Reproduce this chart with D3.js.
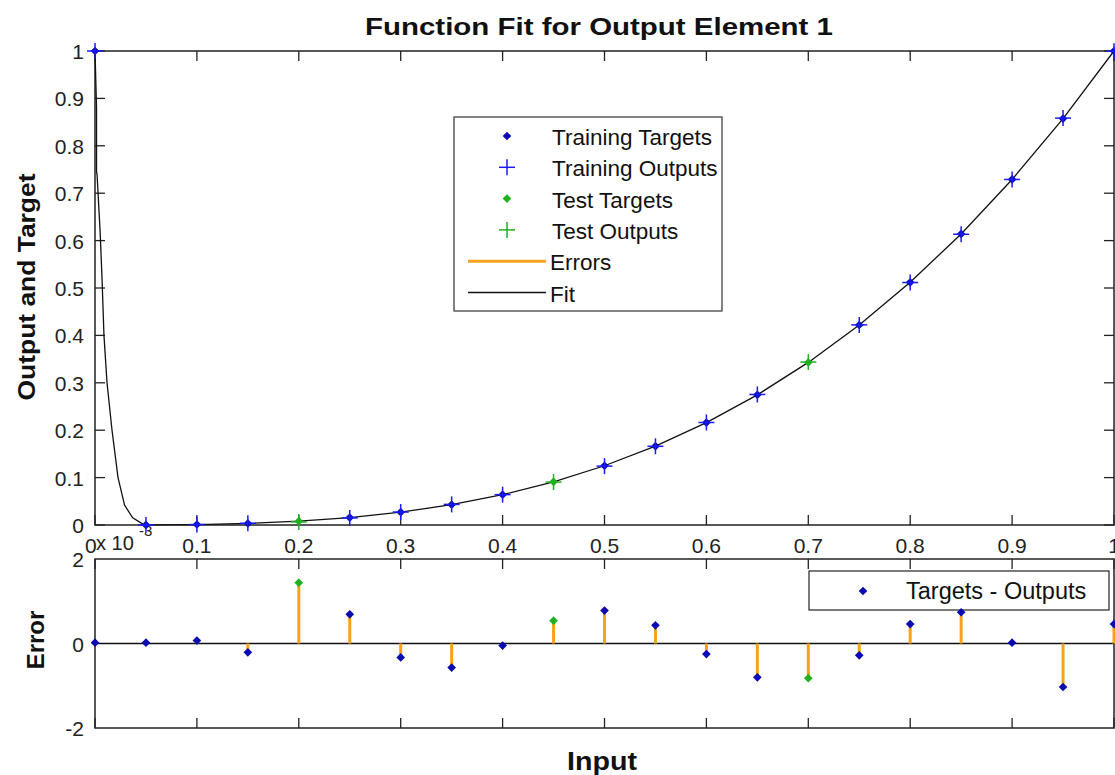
<!DOCTYPE html>
<html>
<head>
<meta charset="utf-8">
<script src="https://cdn.jsdelivr.net/npm/d3@7"></script>
<style>
  body { margin: 0; background: #fff; }
  text { font-family: Arial, "Liberation Sans", sans-serif; }
</style>
</head>
<body>
<svg id="viz" width="1115" height="775"></svg>
<script>
// inputs 0..1 step 0.05
var inputs = [0, 0.05, 0.1, 0.15, 0.2, 0.25, 0.3, 0.35, 0.4, 0.45, 0.5,
              0.55, 0.6, 0.65, 0.7, 0.75, 0.8, 0.85, 0.9, 0.95, 1.0];
var targets = [1.0, 0.0001, 0.001, 0.0034, 0.008, 0.0156, 0.027, 0.0429, 0.064, 0.0911, 0.125,
               0.1664, 0.216, 0.2746, 0.343, 0.4219, 0.512, 0.6141, 0.729, 0.8574, 1.0];
// errors in units of 1e-3
var errors = [0.02, 0.02, 0.07, -0.21, 1.44, 0.69, -0.33, -0.57, -0.05, 0.54, 0.78,
              0.43, -0.25, -0.80, -0.82, -0.28, 0.46, 0.74, 0.02, -1.03, 0.46];
var testIdx = [4, 9, 14];
// fit line
var fitX = [0, 0.0015, 0.0015, 0.002, 0.005, 0.0069, 0.0088, 0.0118, 0.0167, 0.0226, 0.029, 0.037, 0.047,
            0.05, 0.1, 0.15, 0.2, 0.25, 0.3, 0.35, 0.4, 0.45, 0.5, 0.55, 0.6, 0.65, 0.7, 0.75, 0.8, 0.85, 0.9, 0.95, 1.0];
var fitY = [1.0, 0.88, 0.745, 0.74, 0.62, 0.52, 0.4, 0.3, 0.2, 0.1, 0.042, 0.015, 0.002,
            0.0001, 0.001, 0.0034, 0.008, 0.0156, 0.027, 0.0429, 0.064, 0.0911, 0.125, 0.1664, 0.216, 0.2746, 0.343, 0.4219, 0.512, 0.6141, 0.729, 0.8574, 1.0];
var xTicks = [0, 0.1, 0.2, 0.3, 0.4, 0.5, 0.6, 0.7, 0.8, 0.9, 1];
var yTicks = [0, 0.1, 0.2, 0.3, 0.4, 0.5, 0.6, 0.7, 0.8, 0.9, 1];
var errTicks = [-2, 0, 2];
var legendLabels = ["Training Targets", "Training Outputs", "Test Targets", "Test Outputs", "Errors", "Fit"];

var blueDot = "#0a0ab0", bluePlus = "#1a1aff", green = "#22b022", orange = "#f7a21b";

var svg = d3.select("#viz");
var left = 95, right = 1114;
var x = d3.scaleLinear().domain([0, 1]).range([left, right]);
var y = d3.scaleLinear().domain([0, 1]).range([525, 51]);
var ye = d3.scaleLinear().domain([-2, 2]).range([728, 559]);

var pts = inputs.map(function(v, i){
    return { x: v, t: targets[i], e: errors[i], o: targets[i] - errors[i] / 1000,
             test: testIdx.indexOf(i) >= 0 };
});

var diamond = d3.symbol().type(d3.symbolDiamond2).size(48);

// ---- main panel ----
var main = svg.append("g");
main.append("rect").attr("x", left).attr("y", 51).attr("width", right - left).attr("height", 474)
    .attr("fill", "#fff").attr("stroke", "#222").attr("stroke-width", 1.5);

var tick = function(g, scale, yy, dir, ticks){
    ticks.forEach(function(t){
        g.append("line").attr("x1", scale(t)).attr("x2", scale(t))
            .attr("y1", yy).attr("y2", yy + dir * 10).attr("stroke", "#222").attr("stroke-width", 1.3);
    });
};
tick(main, x, 525, -1, xTicks);
tick(main, x, 51, 1, xTicks);
yTicks.forEach(function(t){
    main.append("line").attr("x1", left).attr("x2", left + 10).attr("y1", y(t)).attr("y2", y(t))
        .attr("stroke", "#222").attr("stroke-width", 1.3);
    main.append("line").attr("x1", right).attr("x2", right - 10).attr("y1", y(t)).attr("y2", y(t))
        .attr("stroke", "#222").attr("stroke-width", 1.3);
    main.append("text").attr("x", 84).attr("y", y(t) + 8).attr("text-anchor", "end")
        .attr("font-size", 21).attr("fill", "#222").text(d3.format("~g")(t));
});
xTicks.forEach(function(t){
    if (t === 0) return;
    main.append("text").attr("x", x(t)).attr("y", 553).attr("text-anchor", "middle")
        .attr("font-size", 21).attr("fill", "#222").text(d3.format("~g")(t));
});
main.append("text").attr("x", 85).attr("y", 553).attr("font-size", 21).attr("fill", "#222").text("0");
main.append("text").attr("x", 96).attr("y", 550).attr("font-size", 20).attr("fill", "#222").text("x 10");
main.append("text").attr("x", 139).attr("y", 536).attr("font-size", 15).attr("fill", "#222").text("-3");

var fitLine = d3.line().x(function(d){ return x(d[0]); }).y(function(d){ return y(d[1]); });
main.append("path").datum(d3.zip(fitX, fitY)).attr("d", fitLine)
    .attr("fill", "none").attr("stroke", "#111").attr("stroke-width", 1.3);

main.selectAll(".tgt").data(pts).enter().append("path").attr("class", "tgt")
    .attr("d", diamond).attr("transform", function(d){ return "translate(" + x(d.x) + "," + y(d.t) + ")"; })
    .attr("fill", function(d){ return d.test ? green : blueDot; });

var plus = function(g, cx, cy, r, col){
    g.append("line").attr("x1", cx - r).attr("x2", cx + r).attr("y1", cy).attr("y2", cy)
        .attr("stroke", col).attr("stroke-width", 1.5);
    g.append("line").attr("x1", cx).attr("x2", cx).attr("y1", cy - r).attr("y2", cy + r)
        .attr("stroke", col).attr("stroke-width", 1.5);
};
pts.forEach(function(d){
    plus(main, x(d.x), y(d.o), 8, d.test ? green : bluePlus);
});

// legend
var lg = main.append("g");
lg.append("rect").attr("x", 454).attr("y", 117).attr("width", 268).attr("height", 194)
    .attr("fill", "#fff").attr("stroke", "#333").attr("stroke-width", 1.2);
legendLabels.forEach(function(lab, i){
    var ly = 136 + i * 31.3;
    var tx = i < 4 ? 552 : 550;
    lg.append("text").attr("x", tx).attr("y", ly + 9).attr("font-size", 22.5).attr("fill", "#111").text(lab);
    if (i === 0 || i === 2) {
        lg.append("path").attr("d", diamond).attr("transform", "translate(507," + ly + ")")
            .attr("fill", i === 0 ? blueDot : green);
    } else if (i === 1 || i === 3) {
        plus(lg, 507, ly, 8, i === 1 ? bluePlus : green);
    } else {
        lg.append("line").attr("x1", 468).attr("x2", 546).attr("y1", ly).attr("y2", ly)
            .attr("stroke", i === 4 ? orange : "#111").attr("stroke-width", i === 4 ? 3 : 1.3);
    }
});

// ---- error panel ----
var ep = svg.append("g");
ep.append("rect").attr("x", left).attr("y", 559).attr("width", right - left).attr("height", 169)
    .attr("fill", "#fff").attr("stroke", "#222").attr("stroke-width", 1.5);
tick(ep, x, 728, -1, xTicks);
tick(ep, x, 559, 1, xTicks);
errTicks.forEach(function(t){
    ep.append("text").attr("x", 84).attr("y", ye(t) + 8).attr("text-anchor", "end")
        .attr("font-size", 21).attr("fill", "#222").text(t);
});
ep.append("line").attr("x1", left).attr("x2", right).attr("y1", ye(0)).attr("y2", ye(0))
    .attr("stroke", "#111").attr("stroke-width", 1.3);

ep.selectAll(".stem").data(pts).enter().append("line").attr("class", "stem")
    .attr("x1", function(d){ return x(d.x); }).attr("x2", function(d){ return x(d.x); })
    .attr("y1", ye(0)).attr("y2", function(d){ return ye(d.e); })
    .attr("stroke", orange).attr("stroke-width", 3);

// legend box (drawn before markers so the 0.85 marker sits over its edge)
ep.append("rect").attr("x", 809).attr("y", 571).attr("width", 300).attr("height", 39)
    .attr("fill", "#fff").attr("stroke", "#222").attr("stroke-width", 1.2);
ep.append("path").attr("d", diamond).attr("transform", "translate(863,591)").attr("fill", blueDot);
ep.append("text").attr("x", 906).attr("y", 599).attr("font-size", 23.5).attr("fill", "#111").text("Targets - Outputs");

ep.selectAll(".emk").data(pts).enter().append("path").attr("class", "emk")
    .attr("d", diamond).attr("transform", function(d){ return "translate(" + x(d.x) + "," + ye(d.e) + ")"; })
    .attr("fill", function(d){ return d.test ? green : blueDot; });

// ---- titles ----
svg.append("text").attr("x", 599).attr("y", 35).attr("text-anchor", "middle")
    .attr("font-size", 24).attr("font-weight", "bold").attr("fill", "#111")
    .attr("textLength", 468).attr("lengthAdjust", "spacingAndGlyphs")
    .text("Function Fit for Output Element 1");
svg.append("text").attr("transform", "translate(35,287) rotate(-90)").attr("text-anchor", "middle")
    .attr("font-size", 24).attr("font-weight", "bold").attr("fill", "#111")
    .attr("textLength", 227).attr("lengthAdjust", "spacingAndGlyphs").text("Output and Target");
svg.append("text").attr("transform", "translate(44,640) rotate(-90)").attr("text-anchor", "middle")
    .attr("font-size", 24).attr("font-weight", "bold").attr("fill", "#111").text("Error");
svg.append("text").attr("x", 602).attr("y", 770).attr("text-anchor", "middle")
    .attr("font-size", 25).attr("font-weight", "bold").attr("fill", "#111")
    .attr("textLength", 70).attr("lengthAdjust", "spacingAndGlyphs").text("Input");
</script>
</body>
</html>
